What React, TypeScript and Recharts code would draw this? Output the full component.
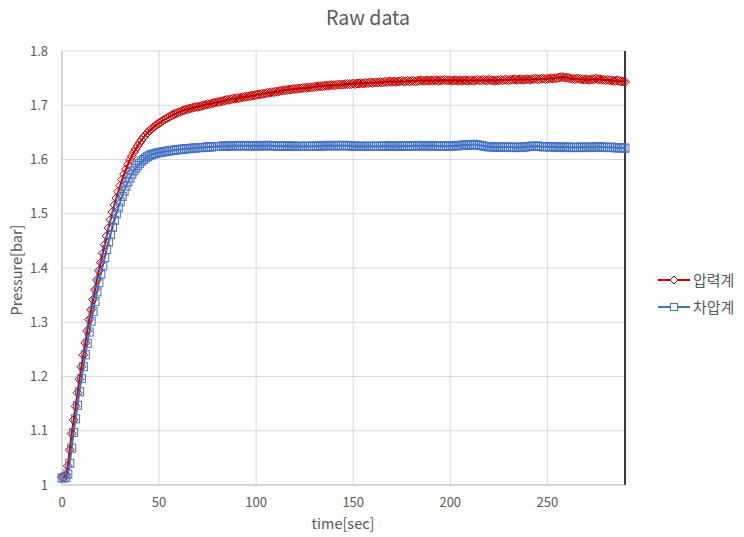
import { LineChart, Line, XAxis, YAxis, CartesianGrid, ReferenceLine } from 'recharts';

// one sample per second, t = 0 .. 290
const SAMPLE_SEC = 1;

// 압력계 (pressure gauge) [bar]
const pressureGauge = [
  1.015, 1.015, 1.018, 1.035, 1.065, 1.095, 1.12, 1.145, 1.17, 1.195,
  1.218, 1.24, 1.262, 1.284, 1.305, 1.323, 1.342, 1.36, 1.378, 1.395,
  1.41, 1.427, 1.443, 1.459, 1.474, 1.489, 1.503, 1.516, 1.529, 1.541,
  1.552, 1.563, 1.573, 1.582, 1.591, 1.599, 1.606, 1.613, 1.619, 1.625,
  1.631, 1.636, 1.641, 1.645, 1.649, 1.653, 1.656, 1.659, 1.662, 1.665,
  1.667, 1.669, 1.672, 1.674, 1.676, 1.678, 1.68, 1.682, 1.684, 1.685,
  1.687, 1.688, 1.69, 1.691, 1.692, 1.693, 1.694, 1.695, 1.696, 1.697,
  1.697, 1.698, 1.699, 1.7, 1.701, 1.702, 1.702, 1.703, 1.704, 1.705,
  1.706, 1.706, 1.707, 1.708, 1.709, 1.71, 1.71, 1.711, 1.712, 1.712,
  1.713, 1.713, 1.714, 1.715, 1.715, 1.716, 1.716, 1.717, 1.718, 1.718,
  1.719, 1.72, 1.72, 1.721, 1.721, 1.722, 1.723, 1.723, 1.724, 1.724,
  1.725, 1.725, 1.726, 1.727, 1.727, 1.728, 1.728, 1.729, 1.729, 1.73,
  1.73, 1.73, 1.731, 1.731, 1.732, 1.732, 1.732, 1.733, 1.733, 1.733,
  1.734, 1.734, 1.735, 1.735, 1.735, 1.736, 1.736, 1.736, 1.737, 1.737,
  1.737, 1.737, 1.738, 1.738, 1.738, 1.738, 1.739, 1.739, 1.739, 1.739,
  1.74, 1.739, 1.74, 1.74, 1.741, 1.74, 1.741, 1.741, 1.741, 1.742,
  1.741, 1.742, 1.742, 1.742, 1.743, 1.742, 1.743, 1.743, 1.743, 1.744,
  1.743, 1.744, 1.743, 1.744, 1.744, 1.745, 1.744, 1.744, 1.745, 1.744,
  1.745, 1.745, 1.744, 1.745, 1.745, 1.746, 1.745, 1.745, 1.746, 1.745,
  1.746, 1.745, 1.746, 1.746, 1.745, 1.746, 1.746, 1.747, 1.746, 1.746,
  1.746, 1.745, 1.746, 1.746, 1.745, 1.746, 1.745, 1.746, 1.746, 1.745,
  1.746, 1.746, 1.745, 1.746, 1.747, 1.746, 1.746, 1.747, 1.746, 1.746,
  1.747, 1.746, 1.746, 1.745, 1.746, 1.746, 1.747, 1.746, 1.747, 1.747,
  1.746, 1.747, 1.747, 1.748, 1.747, 1.747, 1.748, 1.747, 1.747, 1.748,
  1.748, 1.747, 1.748, 1.748, 1.749, 1.748, 1.748, 1.749, 1.749, 1.748,
  1.749, 1.749, 1.75, 1.749, 1.75, 1.75, 1.751, 1.752, 1.752, 1.751,
  1.751, 1.75, 1.749, 1.749, 1.748, 1.749, 1.749, 1.748, 1.748, 1.747,
  1.748, 1.747, 1.747, 1.748, 1.748, 1.749, 1.748, 1.748, 1.747, 1.747,
  1.746, 1.747, 1.746, 1.746, 1.745, 1.745, 1.746, 1.745, 1.744, 1.744,
  1.743,
];

// 차압계 (differential pressure gauge) [bar]
const diffGauge = [
  1.013, 1.013, 1.014, 1.02, 1.04, 1.068, 1.097, 1.122, 1.147, 1.172,
  1.196, 1.218, 1.24, 1.261, 1.282, 1.302, 1.32, 1.338, 1.356, 1.373,
  1.389, 1.404, 1.419, 1.434, 1.448, 1.462, 1.475, 1.488, 1.5, 1.511,
  1.522, 1.532, 1.542, 1.551, 1.559, 1.566, 1.573, 1.579, 1.584, 1.589,
  1.593, 1.597, 1.6, 1.603, 1.605, 1.607, 1.609, 1.61, 1.611, 1.612,
  1.613, 1.613, 1.614, 1.615, 1.615, 1.616, 1.616, 1.617, 1.617, 1.618,
  1.618, 1.619, 1.619, 1.619, 1.62, 1.62, 1.62, 1.621, 1.621, 1.621,
  1.622, 1.622, 1.622, 1.622, 1.623, 1.623, 1.623, 1.623, 1.624, 1.624,
  1.624, 1.624, 1.624, 1.625, 1.625, 1.624, 1.625, 1.625, 1.625, 1.626,
  1.625, 1.625, 1.626, 1.625, 1.625, 1.626, 1.625, 1.625, 1.625, 1.626,
  1.625, 1.625, 1.625, 1.626, 1.625, 1.625, 1.626, 1.626, 1.625, 1.625,
  1.625, 1.624, 1.625, 1.625, 1.624, 1.625, 1.625, 1.625, 1.624, 1.625,
  1.624, 1.624, 1.625, 1.624, 1.624, 1.624, 1.625, 1.624, 1.624, 1.624,
  1.625, 1.625, 1.624, 1.625, 1.625, 1.626, 1.625, 1.625, 1.626, 1.626,
  1.625, 1.625, 1.626, 1.625, 1.626, 1.626, 1.625, 1.626, 1.625, 1.625,
  1.624, 1.625, 1.624, 1.624, 1.625, 1.624, 1.624, 1.624, 1.625, 1.624,
  1.624, 1.624, 1.625, 1.624, 1.624, 1.625, 1.625, 1.624, 1.625, 1.625,
  1.625, 1.624, 1.625, 1.625, 1.624, 1.625, 1.625, 1.625, 1.624, 1.625,
  1.625, 1.625, 1.626, 1.625, 1.625, 1.625, 1.626, 1.625, 1.625, 1.625,
  1.625, 1.626, 1.625, 1.625, 1.625, 1.624, 1.625, 1.625, 1.624, 1.625,
  1.625, 1.625, 1.625, 1.626, 1.625, 1.626, 1.626, 1.627, 1.627, 1.626,
  1.627, 1.627, 1.628, 1.627, 1.627, 1.626, 1.626, 1.625, 1.624, 1.624,
  1.623, 1.624, 1.623, 1.623, 1.622, 1.623, 1.623, 1.622, 1.623, 1.623,
  1.622, 1.623, 1.623, 1.622, 1.622, 1.623, 1.622, 1.623, 1.623, 1.623,
  1.624, 1.624, 1.625, 1.624, 1.624, 1.625, 1.624, 1.624, 1.623, 1.624,
  1.624, 1.623, 1.623, 1.624, 1.623, 1.623, 1.622, 1.623, 1.623, 1.622,
  1.623, 1.623, 1.622, 1.622, 1.623, 1.622, 1.622, 1.623, 1.623, 1.622,
  1.622, 1.623, 1.623, 1.622, 1.623, 1.623, 1.624, 1.623, 1.623, 1.622,
  1.623, 1.622, 1.622, 1.623, 1.622, 1.622, 1.621, 1.622, 1.622, 1.621,
  1.621,
];

const xTicks = [0, 50, 100, 150, 200, 250];
const yTicks = [1, 1.1, 1.2, 1.3, 1.4, 1.5, 1.6, 1.7, 1.8];
const seriesNames = ['압력계', '차압계'];

const RED = '#c00000';
const BLUE = '#4472c4';
const TEXT = '#595959';
const FONT = "'Noto Sans CJK KR', 'Noto Sans', sans-serif";

const data = pressureGauge.map((v, i) => ({
  time: i * SAMPLE_SEC,
  pressure: v,
  diff: diffGauge[i],
}));

const Diamond = (props: any) => {
  const { cx, cy, index } = props;
  if (cx == null || cy == null) return <g key={index} />;
  const r = 4.5;
  return (
    <path
      key={index}
      d={`M${cx},${cy - r}L${cx + r},${cy}L${cx},${cy + r}L${cx - r},${cy}Z`}
      fill="none"
      stroke={RED}
      strokeWidth={1}
    />
  );
};

const Square = (props: any) => {
  const { cx, cy, index } = props;
  if (cx == null || cy == null) return <g key={index} />;
  const r = 4;
  return (
    <rect key={index} x={cx - r} y={cy - r} width={r * 2} height={r * 2} fill="none" stroke={BLUE} strokeWidth={1} />
  );
};

export default function App() {
  return (
    <div style={{ position: 'absolute', left: 0, top: 0, width: 744, height: 537, background: '#fff', fontFamily: FONT }}>
      <LineChart width={744} height={537} data={data} margin={{ top: 51, right: 119, bottom: 22, left: 12 }}>
        <CartesianGrid stroke="#d9d9d9" strokeWidth={1} />
        <XAxis
          type="number"
          dataKey="time"
          domain={[0, 290]}
          ticks={xTicks}
          height={30}
          tickLine={false}
          tickSize={6}
          tickMargin={7}
          stroke="#bfbfbf"
          tick={{ fill: TEXT, fontSize: 13, fontFamily: FONT }}
        />
        <YAxis
          type="number"
          domain={[1, 1.8]}
          ticks={yTicks}
          width={50}
          tickLine={false}
          tickSize={6}
          tickMargin={8}
          stroke="#bfbfbf"
          tick={{ fill: TEXT, fontSize: 13, fontFamily: FONT }}
          tickFormatter={(v: number) => String(v)}
        />
        <ReferenceLine x={290} stroke="#000" strokeWidth={1.5} />
        <Line
          type="linear"
          dataKey="pressure"
          stroke={RED}
          strokeWidth={2}
          dot={Diamond}
          activeDot={false}
          isAnimationActive={false}
        />
        <Line
          type="linear"
          dataKey="diff"
          stroke={BLUE}
          strokeWidth={2}
          dot={Square}
          activeDot={false}
          isAnimationActive={false}
        />
      </LineChart>
      <svg width={744} height={537} style={{ position: 'absolute', left: 0, top: 0, pointerEvents: 'none' }}>
        <text x={368} y={25} textAnchor="middle" fontSize={19.5} fill={TEXT} fontFamily={FONT}>
          Raw data
        </text>
        <text x={343} y={529} textAnchor="middle" fontSize={14.5} fill={TEXT} fontFamily={FONT}>
          time[sec]
        </text>
        <text
          x={0}
          y={0}
          transform="translate(22,270) rotate(-90)"
          textAnchor="middle"
          fontSize={14.5}
          fill={TEXT}
          fontFamily={FONT}
        >
          Pressure[bar]
        </text>
        <g>
          <line x1={658} y1={280} x2={690} y2={280} stroke={RED} strokeWidth={2} />
          <path d="M674,276L678,280L674,284L670,280Z" fill="#fff" stroke={RED} strokeWidth={1} />
          <text x={693} y={285.5} fontSize={15} fill={TEXT} fontFamily={FONT}>
            {seriesNames[0]}
          </text>
          <line x1={658} y1={307} x2={690} y2={307} stroke={BLUE} strokeWidth={2} />
          <rect x={670.5} y={303.5} width={7} height={7} fill="#fff" stroke={BLUE} strokeWidth={1} />
          <text x={693} y={312.5} fontSize={15} fill={TEXT} fontFamily={FONT}>
            {seriesNames[1]}
          </text>
        </g>
      </svg>
    </div>
  );
}
